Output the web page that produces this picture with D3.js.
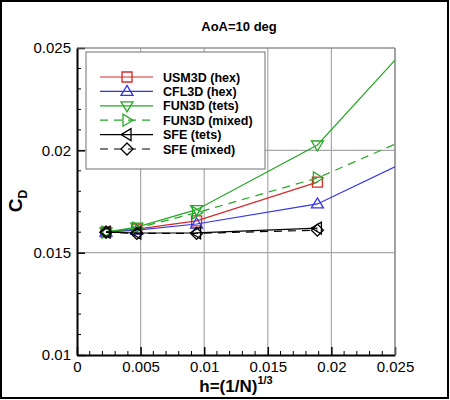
<!DOCTYPE html>
<html>
<head>
    <meta charset="utf-8"/>
    <script src="https://d3js.org/d3.v7.min.js"></script>
    <style>
        body { margin: 0; background: #fff; }
        text { font-family: "Liberation Sans", Arial, sans-serif; }
    </style>
</head>
<body>
<svg width="450" height="400"></svg>
<script>
    // datos
    const hVals = [0.00228, 0.0047, 0.0094, 0.0189, 0.025];
    const usm3d = [0.0160, 0.01615, 0.01655, 0.01845];
    const cfl3d = [0.0160, 0.0161, 0.0164, 0.01738, 0.01919];
    const fun3dTets = [0.0160, 0.01625, 0.0171, 0.02026, 0.02441];
    const fun3dMixed = [0.0160, 0.0162, 0.01695, 0.01865, 0.0203];
    const sfeTets = [0.0160, 0.01596, 0.01597, 0.0162];
    const sfeMixed = [0.0160, 0.01594, 0.01594, 0.0161];
    const seriesNames = ["USM3D (hex)", "CFL3D (hex)", "FUN3D (tets)", "FUN3D (mixed)", "SFE (tets)", "SFE (mixed)"];
    const xTicks = [0, 0.005, 0.01, 0.015, 0.02, 0.025];
    const yTicks = [0.01, 0.015, 0.02, 0.025];

    const svg = d3.select("svg");
    const pLeft = 77, pTop = 48, pRight = 395, pBottom = 355;

    const x = d3.scaleLinear().domain([0, 0.025]).range([pLeft, pRight]);
    const y = d3.scaleLinear().domain([0.01, 0.025]).range([pBottom, pTop]);

    const red = "#d42a2a", blue = "#3535e6", green = "#25a825";
    const series = [
        {vals: usm3d, color: red, dash: null, marker: "square"},
        {vals: cfl3d, color: blue, dash: null, marker: "up"},
        {vals: fun3dTets, color: green, dash: null, marker: "down"},
        {vals: fun3dMixed, color: green, dash: "8,6", marker: "right"},
        {vals: sfeTets, color: "#000", dash: null, marker: "left"},
        {vals: sfeMixed, color: "#000", dash: "8,6", marker: "diamond"}
    ];

    // marco exterior
    svg.append("rect").attr("x", 1).attr("y", 1).attr("width", 447).attr("height", 397)
        .attr("fill", "none").attr("stroke", "#000").attr("stroke-width", 2);

    // grilla
    const grid = svg.append("g").attr("stroke", "#a8a8a8").attr("stroke-width", 1.2);
    xTicks.slice(1).forEach(t => grid.append("line")
        .attr("x1", x(t)).attr("x2", x(t)).attr("y1", pTop).attr("y2", pBottom));
    yTicks.slice(1).forEach(t => grid.append("line")
        .attr("x1", pLeft).attr("x2", pRight).attr("y1", y(t)).attr("y2", y(t)));

    // ejes con ticks hacia adentro
    const xAxis = d3.axisBottom(x).tickValues(xTicks).tickSize(-8).tickSizeOuter(0)
        .tickFormat(d => d === 0 ? "0" : String(+d.toFixed(3)));
    const gx = svg.append("g").attr("transform", "translate(0," + pBottom + ")").call(xAxis);
    gx.select(".domain").attr("stroke-width", 2);
    gx.selectAll(".tick text").attr("dy", null).attr("y", 17).attr("font-size", 15).attr("font-family", "Liberation Sans, Arial");
    gx.selectAll(".tick line").attr("stroke-width", 1.5);
    const xMinor = d3.range(0, 0.0251, 0.001).filter(v => Math.abs(v / 0.005 - Math.round(v / 0.005)) > 1e-6);
    xMinor.forEach(v => svg.append("line").attr("x1", x(v)).attr("x2", x(v))
        .attr("y1", pBottom).attr("y2", pBottom - 4).attr("stroke", "#000"));

    const yAxis = d3.axisLeft(y).tickValues(yTicks).tickSize(-8).tickSizeOuter(0)
        .tickFormat(d => String(+d.toFixed(3)));
    const gy = svg.append("g").attr("transform", "translate(" + pLeft + ",0)").call(yAxis);
    gy.select(".domain").attr("stroke-width", 2);
    gy.selectAll(".tick text").attr("x", -6).attr("font-size", 15).attr("font-family", "Liberation Sans, Arial");
    gy.selectAll(".tick line").attr("stroke-width", 1.5);
    const yMinor = d3.range(0.01, 0.0251, 0.001).filter(v => Math.abs(v / 0.005 - Math.round(v / 0.005)) > 1e-6);
    yMinor.forEach(v => svg.append("line").attr("x1", pLeft).attr("x2", pLeft + 4)
        .attr("y1", y(v)).attr("y2", y(v)).attr("stroke", "#000"));

    // borde superior y derecho
    svg.append("line").attr("x1", pLeft).attr("x2", pRight).attr("y1", pTop).attr("y2", pTop)
        .attr("stroke", "#888").attr("stroke-width", 1.2);
    svg.append("line").attr("x1", pRight).attr("x2", pRight).attr("y1", pTop).attr("y2", pBottom)
        .attr("stroke", "#888").attr("stroke-width", 1.2);

    // marcadores
    function drawMarker(g, type, cx, cy, color) {
        const s = 5;
        let pts;
        if (type === "square") pts = [[-s, -s], [s, -s], [s, s], [-s, s]];
        else if (type === "up") pts = [[0, -s - 1], [s + 1, s - 1], [-s - 1, s - 1]];
        else if (type === "down") pts = [[0, s + 1], [s + 1, -s + 1], [-s - 1, -s + 1]];
        else if (type === "right") pts = [[s + 1, 0], [-s + 1, -s - 1], [-s + 1, s + 1]];
        else if (type === "left") pts = [[-s - 1, 0], [s - 1, -s - 1], [s - 1, s + 1]];
        else pts = [[0, -s - 1], [s + 1, 0], [0, s + 1], [-s - 1, 0]];
        g.append("polygon")
            .attr("points", pts.map(p => (cx + p[0]) + "," + (cy + p[1])).join(" "))
            .attr("fill", "none").attr("stroke", color).attr("stroke-width", 1.3);
    }

    // lineas de datos
    svg.append("clipPath").attr("id", "clip").append("rect")
        .attr("x", pLeft).attr("y", pTop).attr("width", pRight - pLeft).attr("height", pBottom - pTop);
    const plot = svg.append("g").attr("clip-path", "url(#clip)");
    const line = d3.line().x(d => x(d[0])).y(d => y(d[1]));
    series.forEach(s => {
        const pts = s.vals.map((v, i) => [hVals[i], v]);
        plot.append("path").attr("d", line(pts)).attr("fill", "none")
            .attr("stroke", s.color).attr("stroke-width", 1.2)
            .attr("stroke-dasharray", s.dash);
        pts.filter(p => p[0] < 0.025).forEach(p => drawMarker(plot, s.marker, x(p[0]), y(p[1]), s.color));
    });

    // leyenda
    const lg = svg.append("g");
    lg.append("rect").attr("x", 86).attr("y", 52).attr("width", 179).attr("height", 117)
        .attr("fill", "#fff").attr("stroke", "#888").attr("stroke-width", 1.2);
    series.forEach((s, i) => {
        const ly = 77 + i * 14.4;
        lg.append("line").attr("x1", 100).attr("x2", 153).attr("y1", ly).attr("y2", ly)
            .attr("stroke", s.color).attr("stroke-width", 1.2).attr("stroke-dasharray", s.dash);
        drawMarker(lg, s.marker, 127, ly, s.color);
        lg.append("text").attr("x", 163).attr("y", ly + 4.5).attr("font-size", 12.5)
            .attr("font-weight", "bold").text(seriesNames[i]);
    });

    // titulos
    svg.append("text").attr("x", 239).attr("y", 31).attr("text-anchor", "middle")
        .attr("font-size", 13).attr("font-weight", "bold").text("AoA=10 deg");

    const xl = svg.append("text").attr("x", 236).attr("y", 392).attr("text-anchor", "middle")
        .attr("font-size", 17).attr("font-weight", "bold");
    xl.append("tspan").text("h=(1/N)");
    xl.append("tspan").attr("dy", -8).attr("font-size", 11).text("1/3");

    const yl = svg.append("text").attr("transform", "translate(22,201) rotate(-90)")
        .attr("text-anchor", "middle").attr("font-size", 19).attr("font-weight", "bold");
    yl.append("tspan").text("C");
    yl.append("tspan").attr("dy", 5).attr("font-size", 12).text("D");
</script>
</body>
</html>
